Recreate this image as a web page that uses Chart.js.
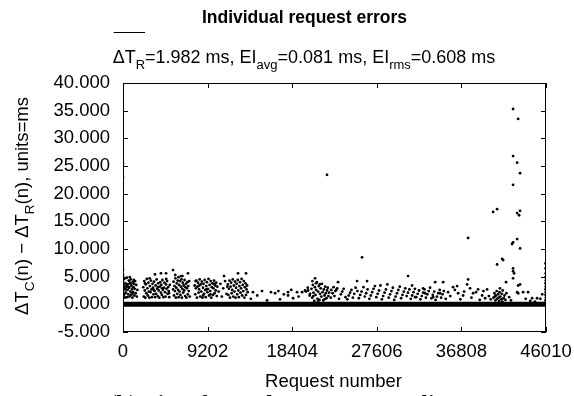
<!DOCTYPE html>
<html>
<head>
<meta charset="utf-8">
<script src="https://cdn.jsdelivr.net/npm/chart.js@4.4.0/dist/chart.umd.min.js"></script>
<style>
  html, body { margin:0; padding:0; background:#fff; }
  #wrap { width:574px; height:396px; position:relative; }
</style>
</head>
<body>
<div id="wrap"><canvas id="chart"></canvas></div>
<script>
// axis ticks
const xTicks = [0, 9202, 18404, 27606, 36808, 46010];
const yTicks = [-5, 0, 5, 10, 15, 20, 25, 30, 35, 40];

// the thick run of near-zero errors along the whole test
const zeroBand = [[0, 0], [46010, 0]];

// [request number, error ms]
const edgeErrors = [[0,25.4],[0,23.0],[0,6.3],[0,5.3],[20,4.8]];

const earlyErrors = [
  [0,4.1],[30,2.4],[70,1.5],[110,3.4],[150,4.6],[190,2.9],[240,1.2],[280,3.8],[320,2.1],[370,3.2],[410,4.8],[450,1.3],[500,2.6],[540,3.6],[580,1.8],[630,4.3],[670,3.0],[710,1.4],[760,3.9],[800,2.3],[840,4.5],[890,1.7],[930,3.3],[970,2.7],[1020,1.2],[1060,4.0],[1100,2.2],[1140,3.1],[1190,3.7],[1230,1.6],[1270,2.8],[1320,4.2],[1380,2.0],[1440,3.5],[1500,1.4],[1560,2.6],[50,3.2],[180,1.9],[300,2.7],[440,3.5],[610,3.1],[740,4.9],[870,3.6],[1000,2.0],[1170,4.4],
  [2200,3.1],[2260,1.4],[2310,4.2],[2370,2.5],[2420,1.2],[2480,3.6],[2540,2.0],[2590,4.6],[2650,2.9],[2700,1.6],[2760,3.9],[2820,2.3],[2870,1.2],[2930,3.3],[2990,2.2],[3040,4.3],[3100,2.7],[3150,1.3],[3210,3.7],[3270,3.0],[3320,1.8],[3380,4.1],[3440,2.4],[3490,1.3],[3550,3.4],[3610,1.9],[3660,4.5],[3720,2.8],[3780,1.5],[3830,3.8],[3890,2.5],[3950,1.2],[4000,3.2],[4060,4.0],[4120,2.1],[4170,3.5],[4230,1.7],[4290,4.4],[4340,2.6],[4400,1.3],[4460,3.0],[4510,3.9],[4570,2.2],[4630,1.4],[4680,3.6],[4740,2.8],[4800,4.2],[4850,1.9],[4910,3.1],[4970,2.4],[5030,1.3],[5090,3.5],[2400,3.8],[2900,4.7],[3350,2.6],[3800,3.1],[4250,2.9],[4700,4.6],[5000,2.0],
  [5450,2.7],[5500,4.1],[5550,1.6],[5600,3.3],[5650,2.4],[5700,4.7],[5750,1.2],[5800,3.0],[5850,3.8],[5900,1.9],[5950,4.3],[6000,2.6],[6050,1.3],[6100,3.5],[6150,2.3],[6200,4.2],[6250,1.7],[6300,3.2],[6350,4.5],[6400,1.2],[6450,2.8],[6500,3.9],[6550,2.1],[6600,3.4],[6650,2.5],[6700,4.4],[6750,1.5],[6800,3.1],[6850,3.7],[6900,1.2],[6950,2.9],[7000,4.0],[7050,1.8],[7100,3.3],[7150,2.4],[7200,4.2],[7260,1.4],[5680,5.3],[6040,4.9],[6460,5.1],
  [7800,3.4],[7860,1.8],[7920,2.9],[7980,4.3],[8040,1.2],[8100,3.2],[8160,3.9],[8220,2.1],[8280,2.7],[8340,4.5],[8400,1.4],[8460,3.6],[8520,2.3],[8580,4.1],[8640,1.2],[8700,3.0],[8760,3.7],[8820,1.9],[8880,4.4],[8940,2.6],[9000,1.3],[9060,3.3],[9120,4.0],[9180,2.2],[9240,2.8],[9300,4.6],[9360,1.6],[9420,3.5],[9480,2.4],[9540,4.2],[9600,1.2],[9660,3.1],[9720,3.8],[9780,1.7],[9840,2.9],[9900,4.3],[9960,2.0],[10020,3.4],[10080,2.5],[10140,3.9],[10200,1.5],[10260,3.2],[7900,4.2],[8300,3.4],[8700,1.6],[9100,2.7],[9500,1.8],[9900,3.7],
  [10400,2.3],[10600,3.7],[10750,1.4],[10900,2.9],[11100,4.2],[11250,1.9],[11350,3.2],
  [11400,3.6],[11460,1.7],[11520,2.8],[11580,4.3],[11640,1.2],[11700,3.2],[11760,3.9],[11820,2.0],[11880,2.6],[11940,4.5],[12000,1.4],[12060,3.4],[12120,2.3],[12180,4.1],[12240,1.2],[12300,3.0],[12360,3.7],[12420,1.8],[12480,4.4],[12540,2.5],[12600,1.3],[12660,3.3],[12720,4.0],[12780,2.1],[12840,2.9],[12900,4.6],[12960,1.6],[13020,3.5],[13080,2.4],[13140,4.2],[13200,1.2],[13260,3.1],[13320,3.8],[13380,1.7],[13440,2.7],[13500,3.4],[13560,2.2],
  [3480,5.4],[4130,5.6],[4680,5.6],[5440,6.2],[6310,5.1],[7070,5.6],[10990,5.1],[12510,5.6],[13380,5.6]
];

const midErrors = [
  [13900,1.0],[14140,2.2],[14600,1.6],[15120,2.4],[15670,0.7],[16100,2.2],[16540,2.0],[16900,2.4],[17080,0.9],[17500,1.8],[17950,2.2],[17950,1.6],[18300,2.6],[18500,1.1],[18930,2.2],[19100,1.4],[19480,2.2],[19800,2.5],[19900,2.3],[20100,3.0],[20130,2.5],[20300,1.6],[20350,1.9],
  [20500,2.8],[20580,1.2],[20650,3.5],[20720,2.1],[20800,0.6],[20870,3.1],[20940,1.7],[21010,2.6],[21080,4.0],[21150,1.0],[21220,2.3],[21290,3.3],[21360,0.8],[21430,1.9],[21500,2.9],[21570,1.4],[21640,3.7],[21710,2.2],[21780,0.7],[21850,2.7],[21920,1.6],[21990,3.2],[22060,2.0],[22130,1.1],[22200,2.5],[22270,3.0],[22340,1.5],[22420,2.1],[20890,4.7],[20600,4.2],[21000,3.8],[21400,3.6],[20700,1.5],[21200,0.5],[21900,0.9],
  [22190,23.4],
  [22600,1.2],[22650,2.6],[22800,2.0],[22900,3.1],[23000,1.5],[23100,2.4],[23200,2.6],[23300,2.9],[23390,4.0],[23500,1.0],[23700,1.8],[23850,2.3],[24000,2.8],[24200,1.3],[24400,0.9],[24550,1.6],[24700,2.1],[24850,2.6],[25000,1.2],[25150,1.9],[25300,3.0],[25460,4.2],[25500,2.4],[25650,1.1],[25800,1.7],[25950,2.3],[26000,8.5],[26150,3.1],[26300,1.4],[26450,2.0],[26550,4.2],[26600,2.7],[26800,1.0],[26950,1.6],[27100,2.2],[27250,2.8],[27400,3.3],[27550,1.3],[27700,1.9],[27850,2.5],[28000,3.4],[28150,0.9],[28300,1.5],[28450,2.1],[28600,2.7],[28750,3.6],[28900,1.2],[29050,1.8],[29200,2.4],[29350,3.0],[29500,0.8],[29650,1.4],[29800,2.0],[29950,2.6],[30100,3.2],[30250,1.1],[30400,1.7],[30550,2.3],[30700,2.9],[30850,1.5],[31010,5.1],[31000,2.1],[31150,2.7],[31300,1.0],[31440,3.4],[31450,1.6],[31600,2.2],[31750,2.8],[31900,1.3],[32050,1.9],[32200,2.5],[32350,0.9],[32500,1.5],[32650,2.1],[32800,2.7],[32950,1.2],[33100,1.8],[33250,2.4],[33400,3.0],[33550,1.1],[33700,1.7],[33850,2.3],[34000,0.8],[34150,1.4],[34300,2.0],[34450,2.6],[34600,1.2],[34750,1.8],[34900,2.4]
];

const lateErrors = [
  [31770,1.3],[32640,2.9],[32860,2.0],[33730,1.3],[33950,4.0],[34490,2.0],[34820,4.0],[35360,2.2],[35900,3.1],[36340,3.3],[36450,2.0],[36990,1.6],[37430,3.6],[37540,12.0],[37540,4.5],[37750,2.9],[38080,2.0],[38620,2.7],[39060,1.6],[39390,1.1],[39600,2.7],
  [35100,1.0],[35600,1.5],[36100,2.6],[36700,0.9],[37100,2.3],[37900,1.2],[38400,2.2],[38800,0.8],[39200,2.4],[39800,1.5],[40000,0.9],[42000,1.3],[42200,0.7],[43800,1.0],[44300,0.6],[44800,0.5],[45400,1.0],[45600,1.8],
  [40260,16.7],[40690,17.2],[40690,7.2],[41240,8.2],[41350,8.0],[41670,4.0],
  [42430,35.3],[42980,33.5],[42430,26.8],[42870,25.6],[43190,23.7],[42430,21.6],[42870,16.5],[43080,16.1],[43190,16.9],[42430,11.2],[42320,10.9],[42870,11.8],[43190,10.1],[42430,6.5],[42430,6.0],[42540,5.6],[42430,4.7],[42980,3.4],[43190,3.6],[42870,2.2],[43520,2.2],[44060,2.2],[44500,1.1],[45040,1.1],[42980,2.0],
  [40300,1.2],[40400,2.0],[40500,0.7],[40550,1.6],[40650,2.4],[40700,1.0],[40800,1.8],[40900,0.6],[40950,2.2],[41050,1.4],[41150,0.9],[41200,1.9],[41300,2.5],[41400,1.1],[41500,1.6],[41600,0.8],[41700,2.0],[40450,1.4],[40850,1.2],[41250,0.5],[41000,2.9],
  [45960,7.4],[45960,6.5],[45990,5.6],[45960,4.9],[45990,4.3],[45960,3.8],[45990,3.2],[45960,2.7],[45990,2.2],[45960,1.7],[45990,1.2],[45960,0.7]
];

const SANS = '"Liberation Sans", Arial, Helvetica, sans-serif';
const toXY = pairs => pairs.map(([x, y]) => ({ x, y }));

// text with subscripts, drawn left to right from x at baseline y
function drawRich(ctx, parts, x, y, size, subSize, drop) {
  let cx = x; const spans = [];
  parts.forEach(p => {
    ctx.font = (p.sub ? subSize : size) + 'px ' + SANS;
    ctx.fillText(p.t, cx, y + (p.sub ? drop : 0));
    const w = ctx.measureText(p.t).width;
    spans.push({ x0: cx, x1: cx + w, p }); cx += w;
  });
  return spans;
}
function richWidth(ctx, parts, size, subSize) {
  return parts.reduce((s, p) => { ctx.font = (p.sub ? subSize : size) + 'px ' + SANS; return s + ctx.measureText(p.t).width; }, 0);
}

const subtitleParts = [
  { t:'ΔT', over:true }, { t:'R', sub:true, over:true }, { t:'=1.982 ms, EI' }, { t:'avg', sub:true },
  { t:'=0.081 ms, EI' }, { t:'rms', sub:true }, { t:'=0.608 ms' }
];
const yTitleParts = [
  { t:'ΔT' }, { t:'C', sub:true }, { t:'(n) − ΔT' }, { t:'R', sub:true }, { t:'(n), units=ms' }
];

const decor = {
  id: 'decor',
  afterDraw(chart) {
    const ctx = chart.ctx, a = chart.chartArea;
    const xs = chart.scales.x, ys = chart.scales.y;
    ctx.save();
    ctx.fillStyle = '#000'; ctx.strokeStyle = '#000'; ctx.lineWidth = 1;
    // frame + inward ticks on all four sides
    ctx.strokeRect(a.left + 0.5, a.top + 0.5, a.right - a.left - 1, a.bottom - a.top - 1);
    ctx.beginPath();
    xTicks.forEach(v => {
      const px = Math.round(xs.getPixelForValue(v)) + 0.5;
      ctx.moveTo(px, a.bottom); ctx.lineTo(px, a.bottom - 5);
      ctx.moveTo(px, a.top); ctx.lineTo(px, a.top + 5);
    });
    yTicks.forEach(v => {
      const py = Math.round(ys.getPixelForValue(v)) + 0.5;
      ctx.moveTo(a.left, py); ctx.lineTo(a.left + 5, py);
      ctx.moveTo(a.right, py); ctx.lineTo(a.right - 5, py);
    });
    ctx.stroke();

    ctx.textAlign = 'left'; ctx.textBaseline = 'alphabetic';
    // title
    ctx.font = 'bold 17.5px ' + SANS;
    ctx.textAlign = 'center';
    ctx.fillText('Individual request errors', 304.5, 23);
    ctx.textAlign = 'left';
    // subtitle with overline
    const sw = richWidth(ctx, subtitleParts, 18, 13);
    const spans = drawRich(ctx, subtitleParts, 304 - sw / 2, 63, 18, 13, 6);
    const ov = spans.filter(s => s.p.over);
    ctx.beginPath();
    ctx.moveTo(ov[0].x0 + 1, 32.5); ctx.lineTo(ov[ov.length - 1].x1, 32.5);
    ctx.stroke();
    // y title, rotated
    const yw = richWidth(ctx, yTitleParts, 18.5, 13.5);
    ctx.save();
    ctx.translate(28, 206);
    ctx.rotate(-Math.PI / 2);
    drawRich(ctx, yTitleParts, -yw / 2, 0, 18.5, 13.5, 6);
    ctx.restore();
    // x title
    ctx.font = '18.5px ' + SANS;
    ctx.textAlign = 'center';
    ctx.fillText('Request number', 333.5, 387);
    // figure caption, cut by the bottom edge
    ctx.font = 'bold 23px "Liberation Serif", "Times New Roman", serif';
    ctx.fillText('(b) Time for each 10KB RPM Client request', 326, 411);
    ctx.restore();
  }
};

new Chart(document.getElementById('chart'), {
  type: 'scatter',
  data: {
    datasets: [
      { data: toXY(zeroBand), showLine: true, borderColor: '#000', borderWidth: 5, pointRadius: 0, order: 2 },
      { data: toXY([...edgeErrors, ...earlyErrors, ...midErrors, ...lateErrors]), backgroundColor: '#000', borderWidth: 0, pointRadius: 1.4, order: 1 }
    ]
  },
  options: {
    responsive: true, maintainAspectRatio: false, animation: false,
    layout: { padding: { top: 83, right: 28, left: 0, bottom: 0 } },
    plugins: { legend: { display: false }, tooltip: { enabled: false } },
    scales: {
      x: {
        type: 'linear', min: 0, max: 46010,
        afterBuildTicks: s => { s.ticks = xTicks.map(v => ({ value: v })); },
        afterFit: s => { s.height = 64; s.paddingLeft = 0; s.paddingRight = 0; },
        grid: { display: false, drawTicks: false }, border: { display: false },
        ticks: { color: '#000', padding: 9, maxRotation: 0, autoSkip: false, font: { family: SANS, size: 18.5 }, callback: v => String(v) }
      },
      y: {
        min: -5, max: 40,
        afterBuildTicks: s => { s.ticks = yTicks.map(v => ({ value: v })); },
        afterFit: s => { s.width = 123; s.paddingTop = 0; s.paddingBottom = 0; },
        grid: { display: false, drawTicks: false }, border: { display: false },
        ticks: { color: '#000', padding: 13, font: { family: SANS, size: 18.5 }, callback: v => Number(v).toFixed(3) }
      }
    }
  },
  plugins: [decor]
});
</script>
</body>
</html>
